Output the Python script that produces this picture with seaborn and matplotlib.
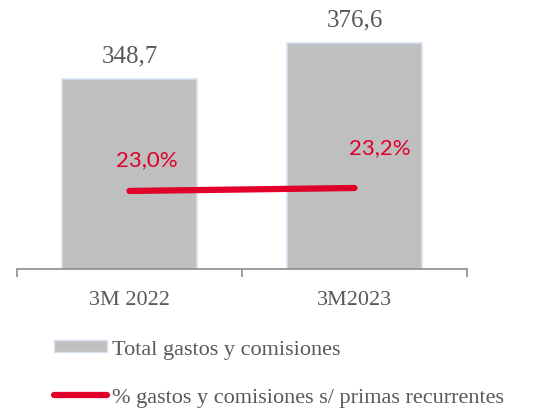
import pandas as pd
import matplotlib
matplotlib.use("Agg")
import matplotlib.pyplot as plt
import seaborn as sns
from matplotlib.patches import Patch
from matplotlib.lines import Line2D

# Datos
periodos = ["3M 2022", "3M2023"]
total_gastos = [348.7, 376.6]
pct_gastos = [23.0, 23.2]
etiquetas_total = ["348,7", "376,6"]
etiquetas_pct = ["23,0%", "23,2%"]

gris_texto = "#595959"
gris_barra = "#BFBFBF"
rojo = "#E0002A"

sns.set_theme(style="white")
plt.rcParams["font.family"] = ["Liberation Serif", "DejaVu Serif"]

df = pd.DataFrame({"Periodo": periodos, "Total": total_gastos})

fig = plt.figure(figsize=(5.33, 4.1), dpi=100)
ax = fig.add_axes([17 / 533, 140 / 410, 450 / 533, 270 / 410])

sns.barplot(data=df, x="Periodo", y="Total", color=gris_barra, width=0.6,
            saturation=1, edgecolor="#D6E2F2", linewidth=1.2, ax=ax)
ax.set_xlim(-0.5, 1.5)
ax.set_ylim(201, 411)
ax.bar_label(ax.containers[0], labels=etiquetas_total, padding=9,
             fontsize=18, color=gris_texto)

for s in ["top", "left", "right"]:
    ax.spines[s].set_visible(False)
ax.spines["bottom"].set_color("#8C8C8C")
ax.spines["bottom"].set_linewidth(1.2)
ax.set_yticks([])
ax.set_xlabel("")
ax.set_ylabel("")
ax.set_xticks([-0.5, 0.5, 1.5], minor=True)
ax.tick_params(axis="x", which="major", length=0, pad=15, labelsize=16,
               labelcolor=gris_texto)
ax.tick_params(axis="x", which="minor", length=6, width=1.2, color="#8C8C8C",
               bottom=True)

# Eje secundario para el porcentaje
ax2 = ax.twinx()
x_pos = list(range(len(periodos)))
ax2.plot(x_pos, pct_gastos, color=rojo, linewidth=4.5, solid_capstyle="round")
ax2.set_ylim(17.74, 35.94)
ax2.set_yticks([])
for s in ["top", "left", "right", "bottom"]:
    ax2.spines[s].set_visible(False)

offsets = [(17, 32), (25, 41)]
for xi, yi, lab, off in zip(x_pos, pct_gastos, etiquetas_pct, offsets):
    ax2.annotate(lab, (xi, yi), xytext=off, textcoords="offset pixels",
                 ha="center", va="center", fontsize=16, color=rojo,
                 family=["Lato", "DejaVu Sans"])

# Leyenda
handles = [Patch(facecolor=gris_barra, edgecolor="#D6E2F2"),
           Line2D([0], [0], color=rojo, linewidth=4.5, solid_capstyle="round")]
labels = ["Total gastos y comisiones",
          "% gastos y comisiones s/ primas recurrentes"]
fig.legend(handles, labels, loc="upper left", bbox_to_anchor=(45 / 533, 1 - 332 / 410),
           frameon=False, fontsize=16, labelcolor=gris_texto, handlelength=2.4,
           handleheight=0.4, handletextpad=0.2, labelspacing=1.3,
           borderaxespad=0)

fig.savefig("out.png", dpi=100)
